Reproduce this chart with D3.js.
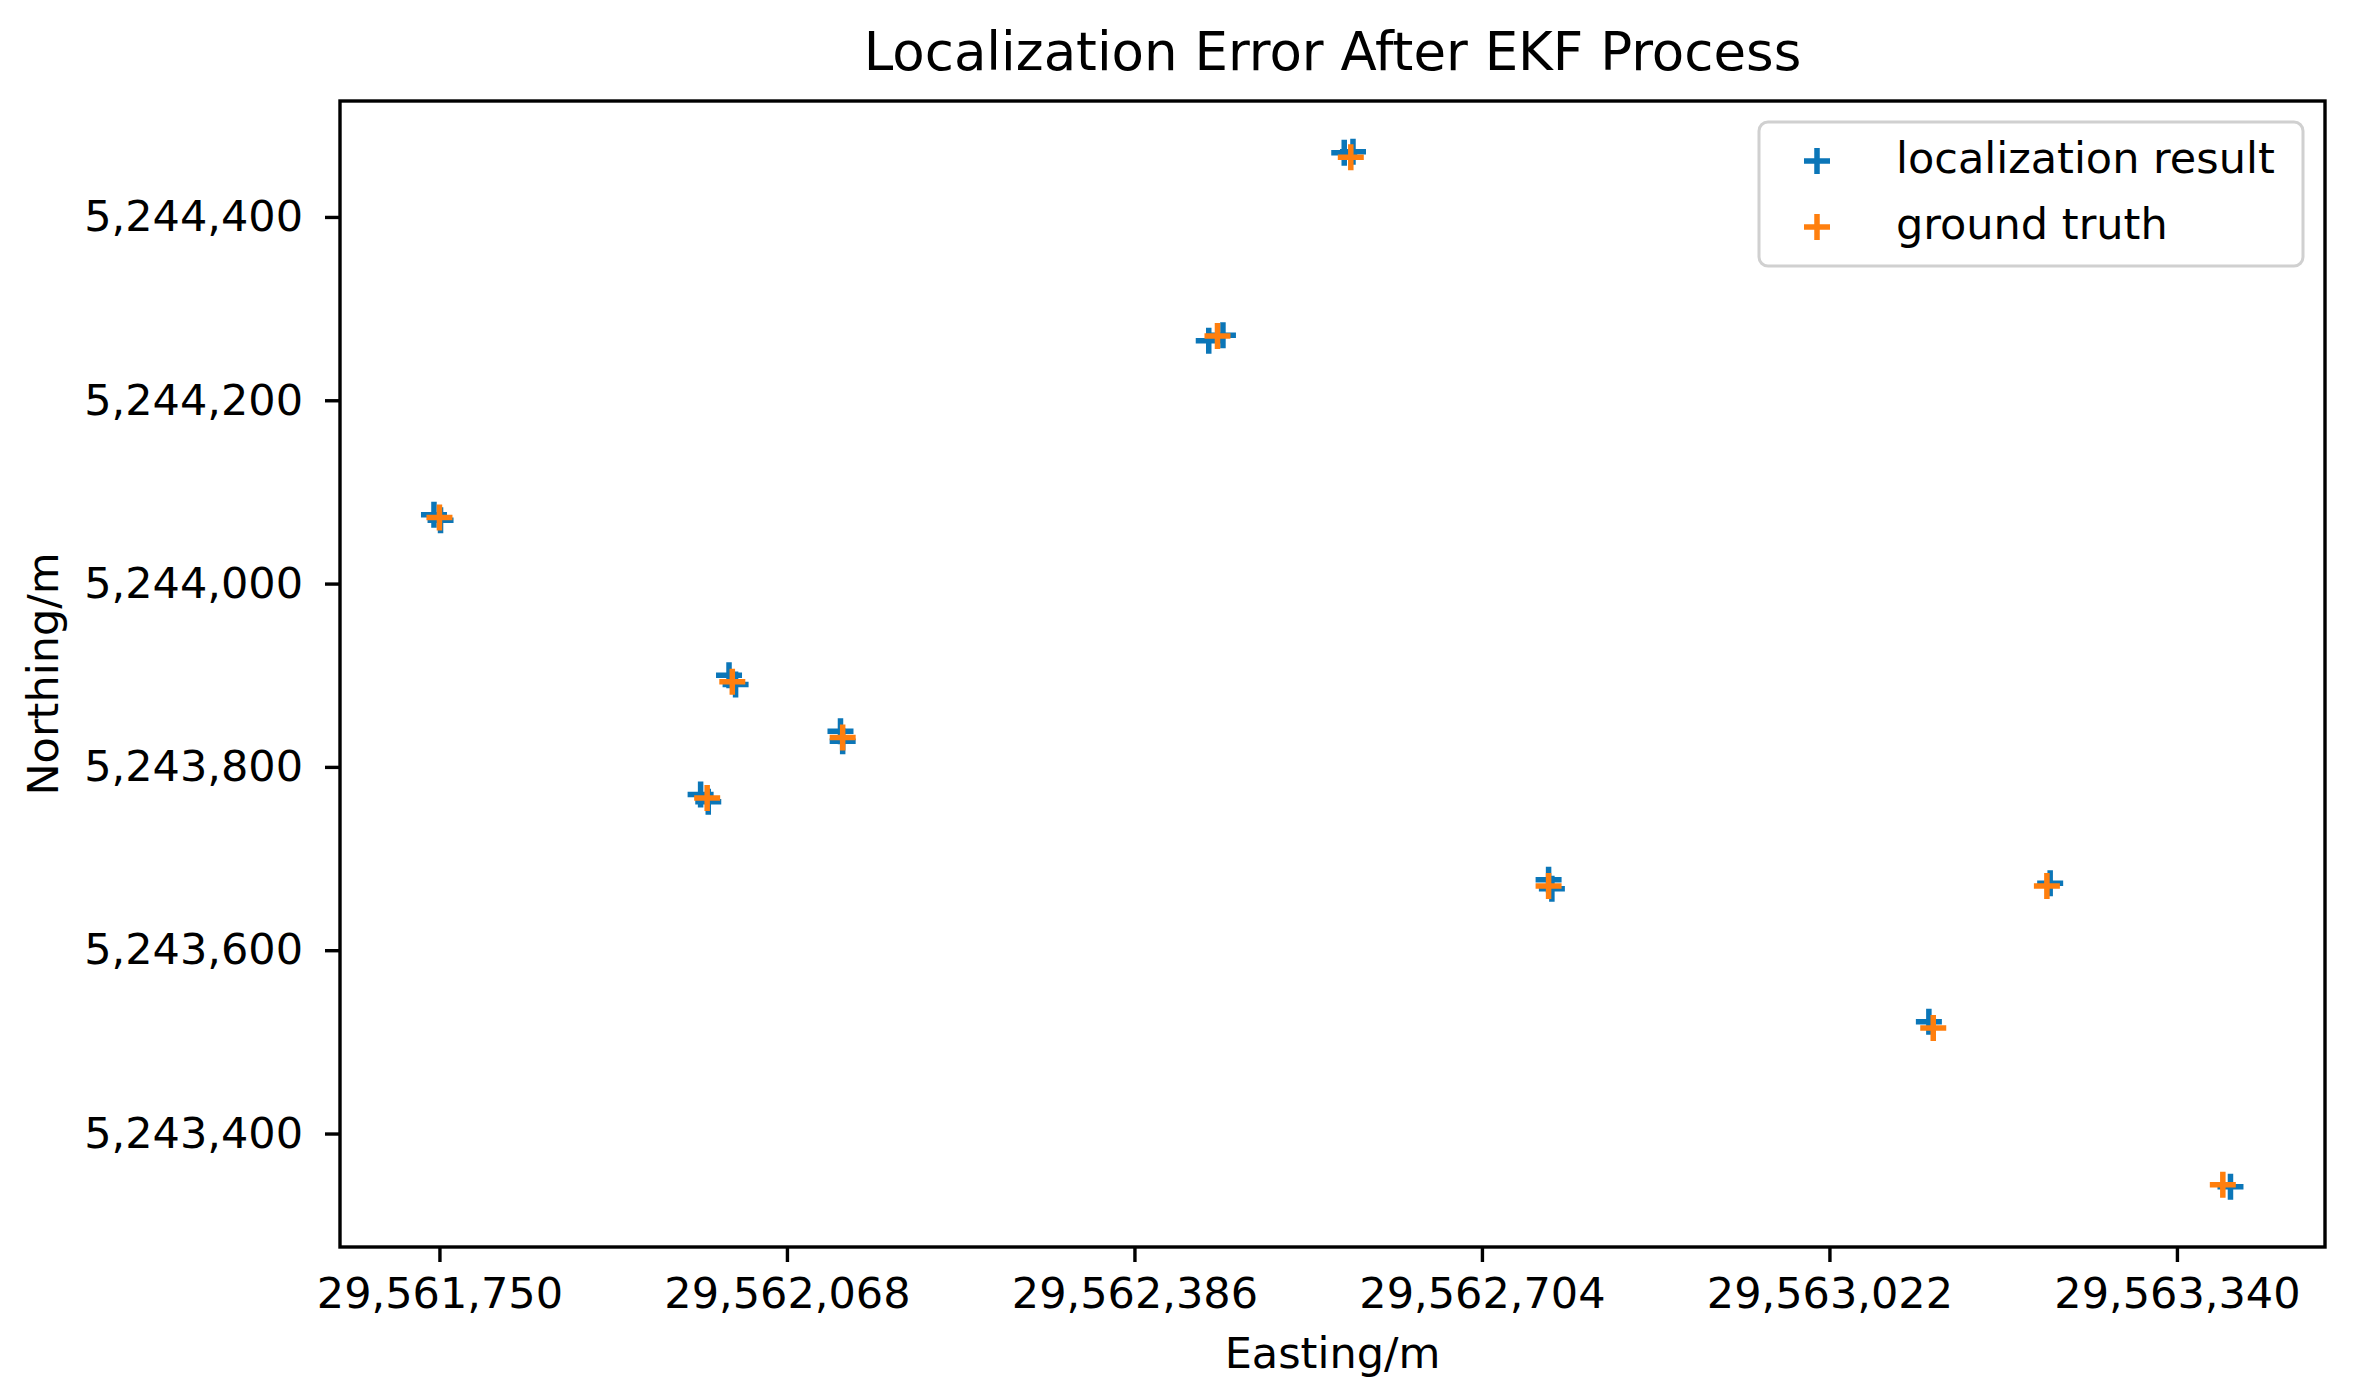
<!DOCTYPE html>
<html>
<head>
<meta charset="utf-8">
<script src="https://cdn.jsdelivr.net/npm/d3@7/dist/d3.min.js"></script>
<style>
  html, body { margin: 0; padding: 0; background: #fff; }
  svg { display: block; }
  text { font-family: "DejaVu Sans", sans-serif; fill: #000; }
</style>
</head>
<body>
<script>
// ---- data ----
const title = "Localization Error After EKF Process";
const xLabel = "Easting/m";
const yLabel = "Northing/m";
const seriesNames = ["localization result", "ground truth"];

// localization result (Easting, Northing)
const resultEasting  = [29561745, 29561751, 29561989, 29561996, 29562015, 29562021, 29562117, 29562119,
                        29562454, 29562467, 29562578, 29562586, 29562765, 29562768, 29563113, 29563224, 29563389];
const resultNorthing = [5244075, 5244069, 5243770, 5243762, 5243900, 5243890, 5243839, 5243828,
                        5244265, 5244271, 5244470, 5244471, 5243677, 5243667, 5243522, 5243673, 5243342];

// ground truth (Easting, Northing)
const truthEasting  = [29561750, 29561995, 29562018, 29562119, 29562462, 29562584, 29562765, 29563117, 29563221, 29563382];
const truthNorthing = [5244072, 5243766, 5243893, 5243832, 5244270, 5244465, 5243670, 5243515, 5243670, 5243344];

const xTicks = [29561750, 29562068, 29562386, 29562704, 29563022, 29563340];
const yTicks = [5243400, 5243600, 5243800, 5244000, 5244200, 5244400];
const xDomain = [29561659, 29563475.5];
const yDomain = [5243276.2, 5244526.5];

// ---- layout ----
const W = 2353, H = 1398;
const plot = { left: 340, right: 2325, top: 101, bottom: 1247 };
const colors = ["#0b76b8", "#ff7f0e"];
const fontTick = 43, fontTitle = 53;

const svg = d3.select("body").append("svg").attr("width", W).attr("height", H);

const x = d3.scaleLinear().domain(xDomain).range([plot.left, plot.right]);
const y = d3.scaleLinear().domain(yDomain).range([plot.bottom, plot.top]);
const fmt = d3.format(",");

// axes
const xAxis = d3.axisBottom(x).tickValues(xTicks).tickFormat(fmt).tickSize(15).tickPadding(12);
const yAxis = d3.axisLeft(y).tickValues(yTicks).tickFormat(fmt).tickSize(15).tickPadding(22);

const gx = svg.append("g").attr("transform", `translate(0,${plot.bottom})`).call(xAxis);
const gy = svg.append("g").attr("transform", `translate(${plot.left},0)`).call(yAxis);
[gx, gy].forEach(g => {
  g.select(".domain").remove();
  g.selectAll(".tick line").attr("stroke", "#000").attr("stroke-width", 3.4);
  g.selectAll(".tick text").style("font-size", fontTick + "px").style("font-family", "DejaVu Sans").attr("fill", "#000");
});
gx.selectAll(".tick text").attr("dy", "0.78em");

// markers
const plus = "M-13,0H13M0,-13V13";
const resultPts = resultEasting.map((e, i) => [e, resultNorthing[i]]);
const truthPts = truthEasting.map((e, i) => [e, truthNorthing[i]]);

svg.append("g").selectAll("path").data(resultPts).join("path")
  .attr("d", plus).attr("transform", d => `translate(${x(d[0])},${y(d[1])})`)
  .attr("stroke", colors[0]).attr("stroke-width", 5.5).attr("fill", "none");
svg.append("g").selectAll("path").data(truthPts).join("path")
  .attr("d", plus).attr("transform", d => `translate(${x(d[0])},${y(d[1])})`)
  .attr("stroke", colors[1]).attr("stroke-width", 5.5).attr("fill", "none");

// frame
svg.append("rect").attr("x", plot.left).attr("y", plot.top)
  .attr("width", plot.right - plot.left).attr("height", plot.bottom - plot.top)
  .attr("fill", "none").attr("stroke", "#000").attr("stroke-width", 3.4);

// title and labels
svg.append("text").attr("x", (plot.left + plot.right) / 2).attr("y", 70)
  .attr("text-anchor", "middle").style("font-size", fontTitle + "px").text(title);
svg.append("text").attr("x", (plot.left + plot.right) / 2).attr("y", 1368)
  .attr("text-anchor", "middle").style("font-size", fontTick + "px").text(xLabel);
svg.append("text").attr("transform", `translate(58,${(plot.top + plot.bottom) / 2}) rotate(-90)`)
  .attr("text-anchor", "middle").style("font-size", fontTick + "px").text(yLabel);

// legend
const lg = svg.append("g");
lg.append("rect").attr("x", 1759).attr("y", 122).attr("width", 544).attr("height", 144)
  .attr("rx", 9).attr("fill", "#fff").attr("fill-opacity", 0.8)
  .attr("stroke", "#d0d0d0").attr("stroke-width", 3);
seriesNames.forEach((name, i) => {
  const cy = 161 + i * 66;
  lg.append("path").attr("d", plus).attr("transform", `translate(1817,${cy})`)
    .attr("stroke", colors[i]).attr("stroke-width", 5.5).attr("fill", "none");
  lg.append("text").attr("x", 1896).attr("y", cy).attr("dy", "0.28em")
    .style("font-size", fontTick + "px").text(name);
});
</script>
</body>
</html>
